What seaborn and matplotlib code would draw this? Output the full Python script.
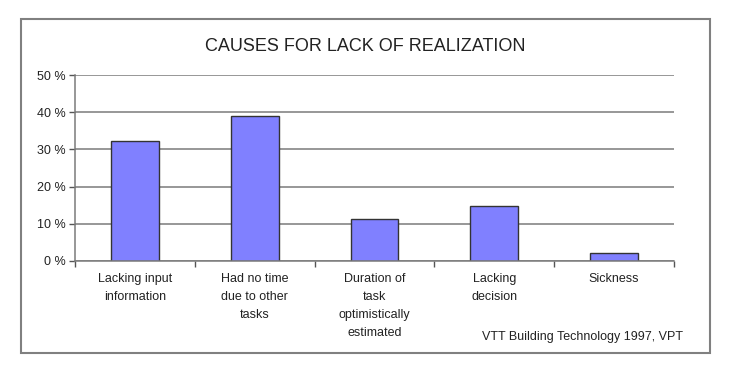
import numpy as np
import pandas as pd
import matplotlib
matplotlib.use('Agg')
import matplotlib.pyplot as plt
import seaborn as sns
from matplotlib.patches import Rectangle
from matplotlib.ticker import FixedLocator

# data
causes = ['Lacking input\ninformation', 'Had no time\ndue to other\ntasks',
          'Duration of\ntask\noptimistically\nestimated', 'Lacking\ndecision', 'Sickness']
share = [32.2, 39.0, 11.3, 14.7, 2.2]
y_ticks = [0, 10, 20, 30, 40, 50]
y_labels = [f'{v} %' for v in y_ticks]

df = pd.DataFrame({'cause': causes, 'share': share})

sns.set_style('white')
plt.rcParams['font.family'] = ['Liberation Sans', 'DejaVu Sans']

fig = plt.figure(figsize=(7.53, 3.67), dpi=100)
ax = fig.add_axes([0.0996, 0.2896, 0.7954, 0.5052])

sns.barplot(x='cause', y='share', data=df, color='#8080FF', width=0.4,
            edgecolor='#333333', linewidth=1.0, saturation=1, ax=ax)

ax.set_xlim(-0.5, len(causes) - 0.5)
ax.set_ylim(0, 50)
ax.set_yticks(y_ticks)
ax.set_yticklabels(y_labels, fontsize=9, color='#222222')
ax.yaxis.grid(True, color='#7a7a7a', linewidth=1.1)
ax.set_axisbelow(True)

ax.set_xticks(range(len(causes)))
ax.set_xticklabels(causes, fontsize=9, color='#222222', linespacing=1.65, va='top')
ax.xaxis.set_minor_locator(FixedLocator(np.arange(-0.5, len(causes), 1.0)))
ax.tick_params(axis='x', which='major', length=0, pad=9)
ax.tick_params(axis='x', which='minor', length=4, width=1, color='#555555', direction='out', bottom=True)
ax.tick_params(axis='y', length=4, width=1, color='#555555', direction='out', left=True, pad=3)

ax.set_xlabel('')
ax.set_ylabel('')
sns.despine(ax=ax, top=True, right=True)
for s in ['left', 'bottom']:
    ax.spines[s].set_color('#7a7a7a')
    ax.spines[s].set_linewidth(1.1)

fig.text(0.4854, 0.873, 'CAUSES FOR LACK OF REALIZATION', ha='center', va='center',
         fontsize=13, color='#222222')
fig.text(0.907, 0.0817, 'VTT Building Technology 1997, VPT', ha='right', va='center',
         fontsize=9, color='#222222')

fig.patches.append(Rectangle((0.0279, 0.0381), 0.915, 0.910, transform=fig.transFigure,
                             fill=False, edgecolor='#808080', linewidth=1.5))

fig.savefig('out.png', dpi=100)
